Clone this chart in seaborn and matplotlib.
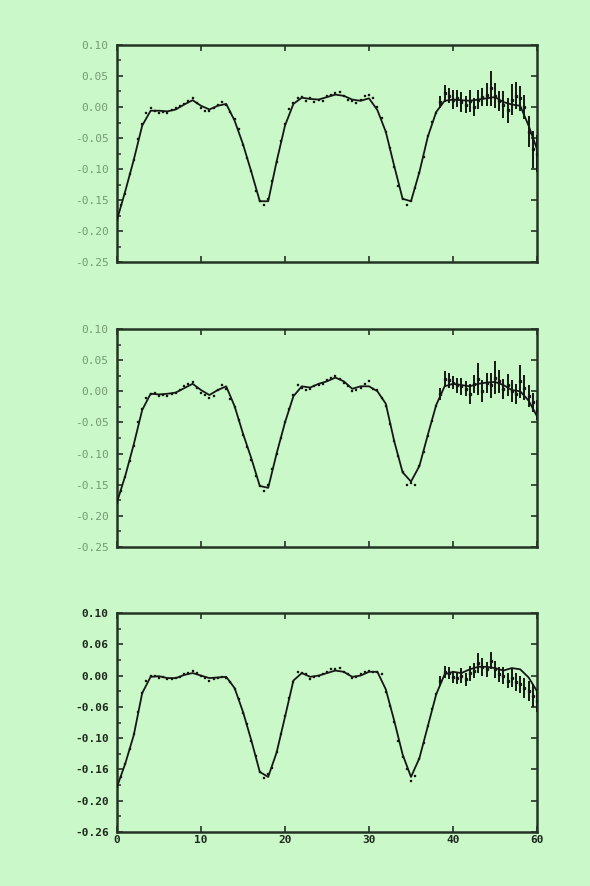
import numpy as np
import matplotlib
matplotlib.use("Agg")
import matplotlib.pyplot as plt
from matplotlib.ticker import MultipleLocator, FixedLocator, FixedFormatter
import seaborn as sns

# ---------------- data ----------------
x_model = np.arange(0, 51, 1)
x_data = np.arange(0, 50.5, 0.5)
x_err = np.arange(38.5, 50.5, 0.5)

model_top = [-0.182, -0.135, -0.085, -0.030, -0.006, -0.006, -0.007, -0.004, 0.004, 0.011,
             0.002, -0.004, 0.002, 0.005, -0.022, -0.060, -0.105, -0.152, -0.152, -0.088,
             -0.030, 0.005, 0.015, 0.013, 0.012, 0.016, 0.020, 0.018, 0.012, 0.010,
             0.014, -0.005, -0.040, -0.095, -0.148, -0.152, -0.105, -0.048, -0.008, 0.010,
             0.012, 0.011, 0.010, 0.012, 0.014, 0.016, 0.008, 0.004, 0.002, -0.030, -0.068]
data_top = [-0.182, -0.158, -0.140, -0.108, -0.085, -0.052, -0.028, -0.010, -0.002, -0.006,
            -0.010, -0.008, -0.009, -0.005, -0.002, 0.002, 0.005, 0.010, 0.014, 0.006,
            -0.002, -0.006, -0.007, -0.002, 0.003, 0.008, 0.004, -0.008, -0.020, -0.036,
            -0.062, -0.082, -0.104, -0.135, -0.152, -0.158, -0.148, -0.120, -0.088, -0.055,
            -0.028, -0.004, 0.006, 0.014, 0.016, 0.010, 0.014, 0.008, 0.012, 0.010,
            0.018, 0.020, 0.022, 0.024, 0.018, 0.012, 0.010, 0.006, 0.012, 0.018,
            0.020, 0.014, 0.000, -0.018, -0.040, -0.066, -0.096, -0.128, -0.148, -0.158,
            -0.152, -0.130, -0.106, -0.080, -0.046, -0.024, -0.010, 0.008, 0.022, 0.018,
            0.012, 0.014, 0.008, 0.004, 0.010, 0.000, 0.012, 0.016, 0.020, 0.030,
            0.018, 0.010, 0.004, -0.005, 0.012, 0.018, 0.014, 0.000, -0.040, -0.068, -0.075]
err_top = [0.010, 0.014, 0.012, 0.015, 0.014, 0.016, 0.014, 0.018, 0.015, 0.016, 0.014, 0.018,
           0.028, 0.020, 0.016, 0.022, 0.020, 0.025, 0.022, 0.020, 0.020, 0.025, 0.030, 0.030]

model_mid = [-0.178, -0.135, -0.085, -0.030, -0.004, -0.005, -0.004, -0.002, 0.005, 0.012,
             0.002, -0.006, 0.002, 0.008, -0.024, -0.068, -0.108, -0.152, -0.155, -0.100,
             -0.050, -0.008, 0.008, 0.006, 0.012, 0.016, 0.022, 0.016, 0.004, 0.008,
             0.008, 0.000, -0.020, -0.080, -0.130, -0.145, -0.120, -0.070, -0.022, 0.008,
             0.012, 0.010, 0.008, 0.012, 0.014, 0.015, 0.010, 0.002, 0.000, -0.015, -0.040]
data_mid = [-0.180, -0.160, -0.138, -0.112, -0.088, -0.050, -0.028, -0.010, -0.004, -0.002,
            -0.007, -0.006, -0.008, -0.004, -0.002, 0.002, 0.008, 0.012, 0.015, 0.006,
            -0.002, -0.006, -0.010, -0.008, 0.002, 0.010, 0.004, -0.012, -0.026, -0.046,
            -0.070, -0.090, -0.110, -0.136, -0.152, -0.160, -0.150, -0.125, -0.100, -0.075,
            -0.050, -0.028, -0.006, 0.010, 0.006, 0.002, 0.004, 0.008, 0.010, 0.012,
            0.018, 0.022, 0.024, 0.020, 0.014, 0.008, 0.000, 0.002, 0.006, 0.012,
            0.016, 0.004, 0.002, -0.010, -0.024, -0.052, -0.080, -0.104, -0.130, -0.150,
            -0.148, -0.150, -0.120, -0.098, -0.072, -0.048, -0.024, -0.004, 0.020, 0.018,
            0.014, 0.010, 0.008, 0.004, -0.004, 0.012, 0.020, 0.000, 0.014, 0.010,
            0.022, 0.016, 0.004, 0.010, 0.000, -0.004, 0.016, 0.006, -0.008, -0.018, -0.030]
err_mid = [0.010, 0.012, 0.012, 0.010, 0.012, 0.014, 0.012, 0.016, 0.014, 0.026, 0.018, 0.016,
           0.020, 0.026, 0.018, 0.016, 0.018, 0.018, 0.016, 0.026, 0.020, 0.018, 0.016, 0.016]

model_bot = [-0.178, -0.140, -0.095, -0.028, -0.002, -0.001, -0.004, -0.004, 0.001, 0.004,
             0.000, -0.004, -0.003, -0.002, -0.020, -0.058, -0.104, -0.154, -0.162, -0.123,
             -0.066, -0.008, 0.004, -0.002, 0.000, 0.004, 0.008, 0.006, -0.002, 0.000,
             0.006, 0.006, -0.022, -0.072, -0.126, -0.162, -0.132, -0.081, -0.030, 0.002,
             0.006, 0.004, 0.010, 0.014, 0.014, 0.012, 0.008, 0.012, 0.010, -0.003, -0.025]
data_bot = [-0.178, -0.162, -0.142, -0.118, -0.094, -0.058, -0.028, -0.008, -0.001, 0.000,
            -0.004, -0.003, -0.006, -0.006, -0.004, -0.002, 0.002, 0.004, 0.007, 0.004,
            0.000, -0.004, -0.008, -0.006, -0.004, -0.002, -0.004, -0.010, -0.022, -0.038,
            -0.060, -0.078, -0.104, -0.128, -0.154, -0.164, -0.158, -0.148, -0.122, -0.094,
            -0.064, -0.036, -0.010, 0.006, 0.004, 0.002, -0.006, -0.002, 0.000, 0.002,
            0.006, 0.010, 0.010, 0.012, 0.006, 0.002, -0.004, -0.002, 0.002, 0.006,
            0.008, 0.006, 0.006, 0.002, -0.026, -0.048, -0.074, -0.104, -0.130, -0.150,
            -0.168, -0.160, -0.134, -0.108, -0.080, -0.054, -0.030, -0.008, 0.006, 0.004,
            -0.002, -0.004, 0.000, -0.006, 0.004, 0.008, 0.020, 0.014, 0.010, 0.024,
            0.010, 0.002, 0.000, -0.008, -0.004, -0.010, -0.014, -0.020, -0.024, -0.032, -0.040]
err_bot = [0.008, 0.010, 0.010, 0.010, 0.010, 0.012, 0.010, 0.012, 0.012, 0.016, 0.014, 0.012,
           0.014, 0.014, 0.012, 0.014, 0.012, 0.014, 0.014, 0.014, 0.016, 0.016, 0.018, 0.018]

yticks = [0.10, 0.05, 0.00, -0.05, -0.10, -0.15, -0.20, -0.25]
ytick_labels_upper = ["0.10", "0.05", "0.00", "-0.05", "-0.10", "-0.15", "-0.20", "-0.25"]
ytick_labels_lower = ["0.10", "0.06", "0.00", "-0.06", "-0.10", "-0.16", "-0.20", "-0.26"]
xticks = [0, 10, 20, 30, 40, 50]
xtick_labels = ["0", "10", "20", "30", "40", "60"]

# ---------------- style ----------------
bg = "#cbf8c9"
ink = "#151815"
spine_col = "#243424"
sns.set_style("ticks")
plt.rcParams["font.family"] = ["DejaVu Sans Mono", "DejaVu Sans"]

fig = plt.figure(figsize=(5.9, 8.86), dpi=100, facecolor=bg)
W, H = 590, 886
boxes = [(117, 45, 537, 262), (117, 329, 537, 547), (117, 613, 537, 832)]
panels = [(model_top, data_top, err_top), (model_mid, data_mid, err_mid), (model_bot, data_bot, err_bot)]

for i, ((l, t, r, b), (mod, dat, err)) in enumerate(zip(boxes, panels)):
    ax = fig.add_axes([l / W, 1 - b / H, (r - l) / W, (b - t) / H])
    ax.set_facecolor(bg)
    n_left = len(x_data) - len(err)
    sns.scatterplot(x=x_data[:n_left], y=dat[:n_left], ax=ax, marker="s", s=2.5,
                    color=ink, edgecolor=ink, linewidth=0.2, zorder=3, legend=False)
    ax.errorbar(x_err, dat[n_left:], yerr=err, fmt="s", ms=1.4, color=ink,
                elinewidth=1.4, capsize=0, zorder=3)
    sns.lineplot(x=x_model, y=mod, ax=ax, color=ink, lw=1.3, zorder=4, legend=False)

    ax.set_xlim(0, 50)
    ax.set_ylim(-0.25, 0.10)
    for s in ax.spines.values():
        s.set_color(spine_col)
        s.set_linewidth(1.8)
        s.set_visible(True)
    ax.yaxis.set_major_locator(FixedLocator(yticks))
    ax.yaxis.set_minor_locator(MultipleLocator(0.025))
    ax.xaxis.set_major_locator(FixedLocator(xticks))
    ax.tick_params(which="major", direction="in", length=4, width=1.2, color=spine_col,
                   left=True, right=True, top=True, bottom=True)
    ax.tick_params(axis="y", which="minor", direction="in", length=3, width=1.1,
                   color=spine_col, left=True, right=False)
    ax.tick_params(axis="y", which="major", pad=6)
    ax.set_xlabel("")
    ax.set_ylabel("")
    if i < 2:
        ax.yaxis.set_major_formatter(FixedFormatter(ytick_labels_upper))
        for lab in ax.get_yticklabels():
            lab.set_color("#739a73")
            lab.set_fontsize(8)
        ax.set_xticklabels([])
    else:
        ax.yaxis.set_major_formatter(FixedFormatter(ytick_labels_lower))
        ax.xaxis.set_major_formatter(FixedFormatter(xtick_labels))
        for lab in ax.get_yticklabels():
            lab.set_color("#1c2a1c")
            lab.set_fontsize(8)
            lab.set_fontweight("bold")
        for lab in ax.get_xticklabels():
            lab.set_color("#1c2a1c")
            lab.set_fontsize(8)
            lab.set_fontweight("bold")
        ax.tick_params(axis="x", pad=2)

fig.savefig("out.png", dpi=100, facecolor=bg)
